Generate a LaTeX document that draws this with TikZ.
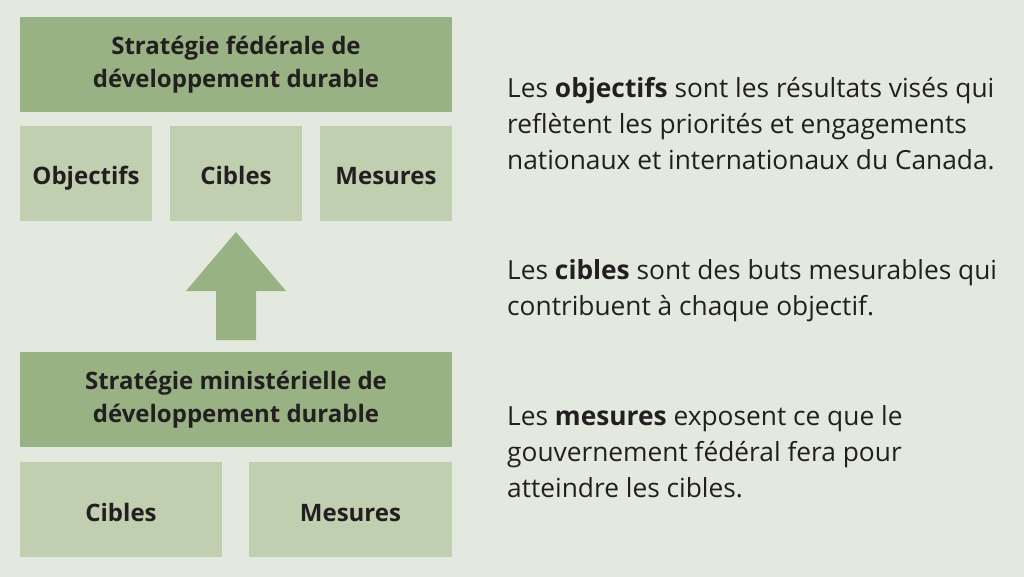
\documentclass[tikz,border=0pt]{standalone}
\usepackage{fontspec}
\setmainfont{Open Sans}
\usetikzlibrary{shapes,arrows,positioning}
\definecolor{bgcol}{HTML}{E4E9DF}
\definecolor{darkgreen}{HTML}{98B283}
\definecolor{lightgreen}{HTML}{BFCFAF}
\definecolor{inkcol}{HTML}{231F20}

\begin{document}
\begin{tikzpicture}[x=1pt,y=-1pt,every node/.style = {shape = rectangle, inner sep = 0pt, minimum height = 95pt, align = center, text = inkcol, font = \fontsize{24}{33}\selectfont\bfseries},head box/.style = {fill = darkgreen, minimum width = 432pt},part box/.style = {fill = lightgreen, text height = 23pt, text depth = 0pt},note/.style = {minimum height = 0pt, align = left, anchor = north west, font = \fontsize{26.3}{36}\selectfont}]
\fill[bgcol] (0,0) rectangle (1024,577);
\node[head box](0;0) at (236,64.5) {Stratégie fédérale de \\ développement durable};
  \node[part box, minimum width = 132pt](1;-1) at (86,173.5) {Objectifs};
  \node[part box, minimum width = 132pt](1;0)  at (236,173.5) {Cibles};
  \node[part box, minimum width = 132pt](1;1)  at (386,173.5) {Mesures};
\node[head box](2;0) at (236,399.5) {Stratégie ministérielle de \\ développement durable};
  \node[part box, minimum width = 202pt](3;-1) at (121,509.5) {Cibles};
  \node[part box, minimum width = 203pt](3;1)  at (350.5,509.5) {Mesures};

\fill[darkgreen] (216,340) -- (216,291) -- (186,291) -- (236,232) -- (286,291) -- (256,291) -- (256,340) -- cycle;

\node[note](n;1) at (507,77) {Les \textbf{objectifs} sont les résultats visés qui \\ reflètent les priorités et engagements \\ nationaux et internationaux du Canada.};
\node[note](n;2) at (507,259) {Les \textbf{cibles} sont des buts mesurables qui \\ contribuent à chaque objectif.};
\node[note](n;3) at (507,405) {Les \textbf{mesures} exposent ce que le \\ gouvernement fédéral fera pour \\ atteindre les cibles.};

\end{tikzpicture}
\end{document}
